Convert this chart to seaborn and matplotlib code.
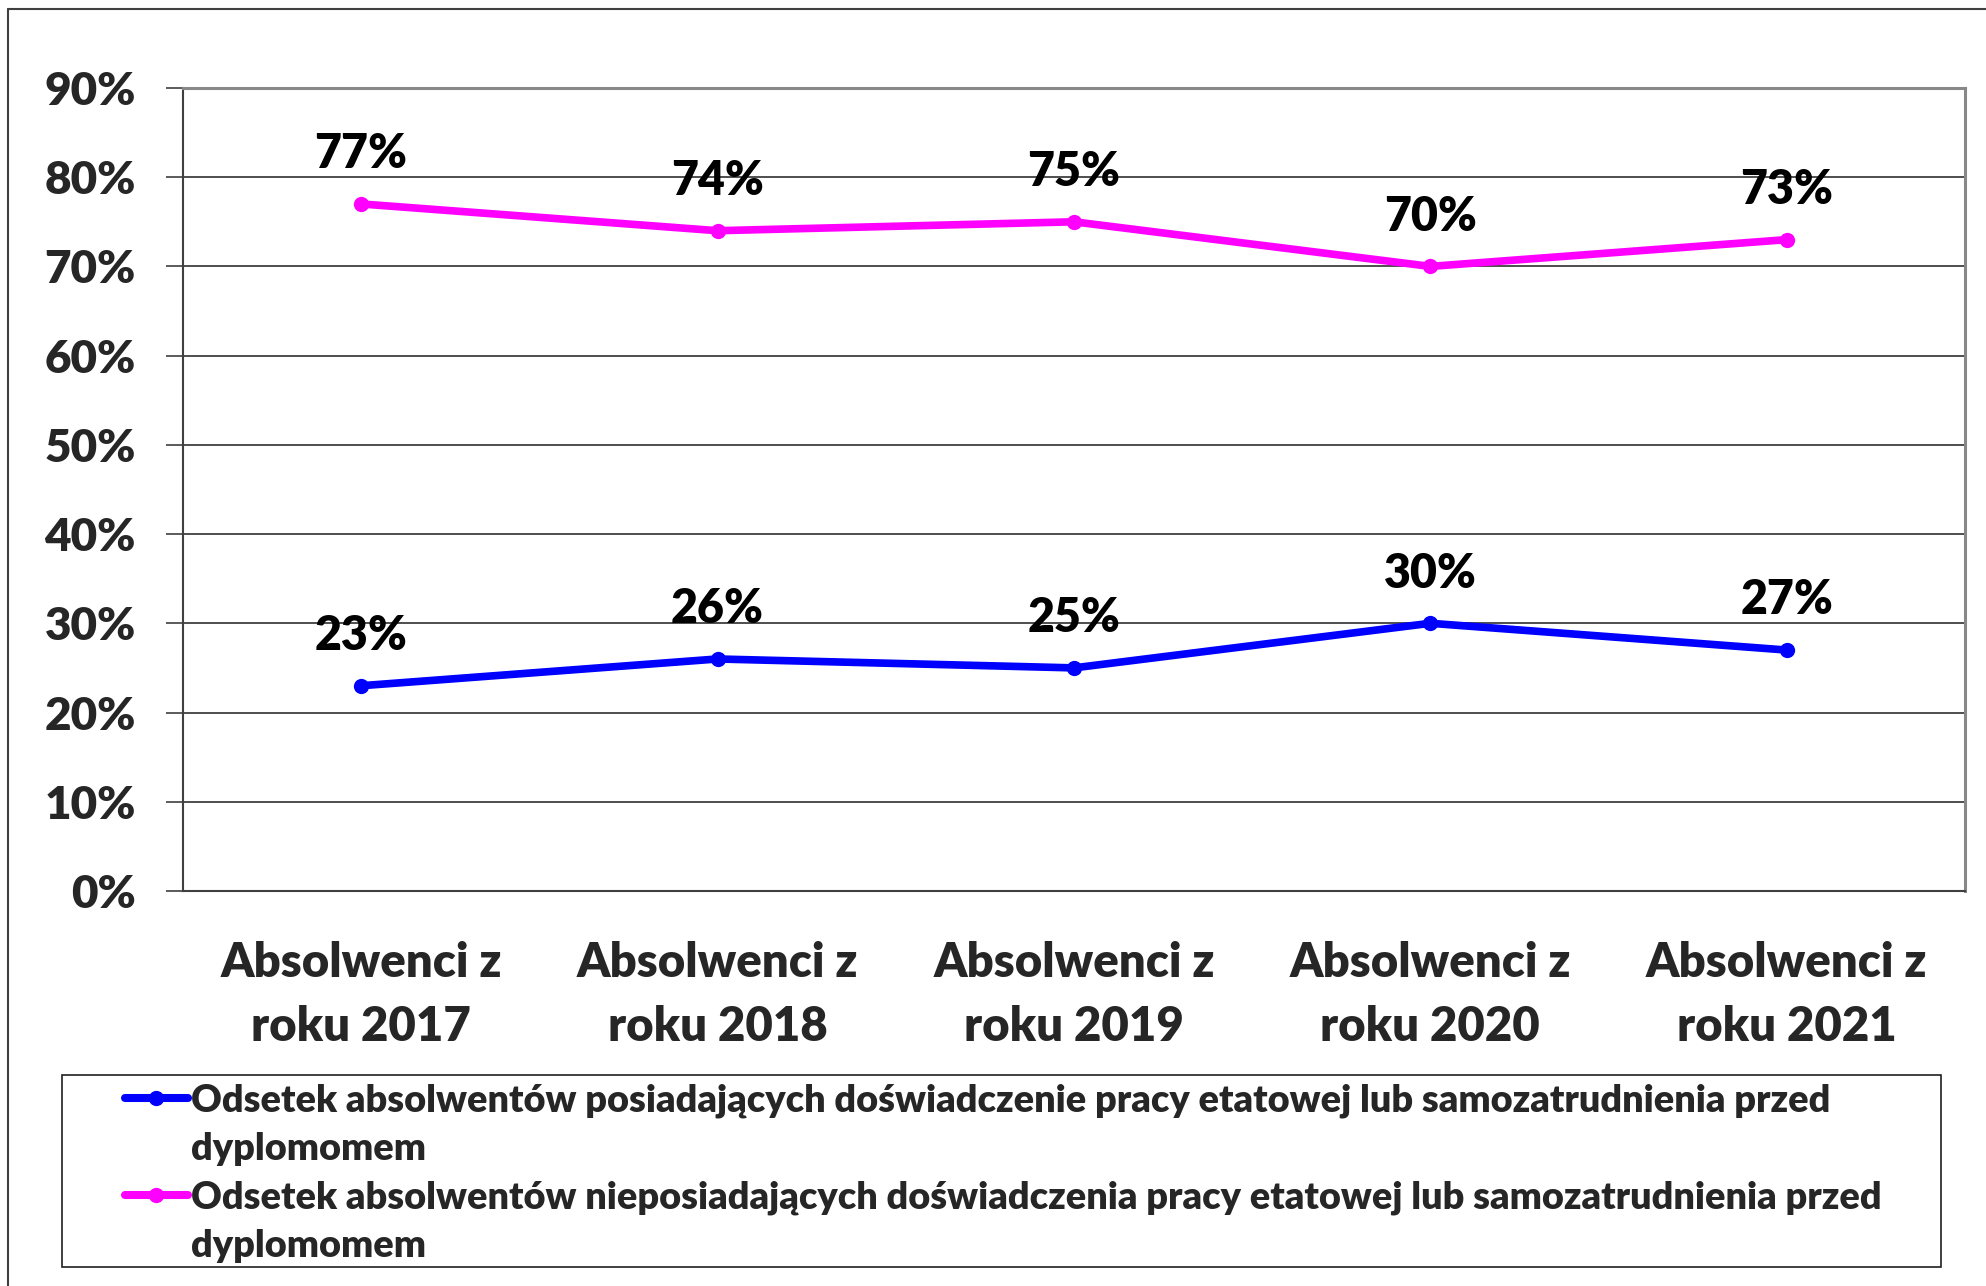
import pandas as pd
import numpy as np
import matplotlib
matplotlib.use("Agg")
import matplotlib.pyplot as plt
import seaborn as sns
from matplotlib.lines import Line2D
from matplotlib.patches import Rectangle

kategorie = ["Absolwenci z\nroku 2017", "Absolwenci z\nroku 2018", "Absolwenci z\nroku 2019",
             "Absolwenci z\nroku 2020", "Absolwenci z\nroku 2021"]
z_doswiadczeniem = [23, 26, 25, 30, 27]
bez_doswiadczenia = [77, 74, 75, 70, 73]
etykieta_z = ["Odsetek absolwentów posiadających doświadczenie pracy etatowej lub samozatrudnienia przed",
              "dyplomomem"]
etykieta_bez = ["Odsetek absolwentów nieposiadających doświadczenia pracy etatowej lub samozatrudnienia przed",
                "dyplomomem"]
y_ticki = [0, 10, 20, 30, 40, 50, 60, 70, 80, 90]

sns.set_theme(style="white")
plt.rcParams['font.family'] = ['Lato', 'DejaVu Sans']
WAGA = 'heavy'

fig = plt.figure(figsize=(19.86, 12.86), dpi=100)
ax = fig.add_axes([0.0921, 0.3072, 0.8973, 0.6244])

x = np.arange(len(kategorie))
serie = [(z_doswiadczeniem, "#0000FF", etykieta_z), (bez_doswiadczenia, "#FF00FF", etykieta_bez)]
for wartosci, kolor, etykieta in serie:
    sns.lineplot(x=x, y=wartosci, ax=ax, color=kolor, linewidth=5.5, marker='o',
                 markersize=11, markeredgewidth=0, sort=False)
    for xi, v in zip(x, wartosci):
        ax.annotate(f"{v}%", (xi, v), xytext=(0, 20), textcoords='offset points',
                    ha='center', va='bottom', fontsize=33.5, fontweight=WAGA, color='black')

ax.set_xlim(-0.5, len(kategorie) - 0.5)
ax.set_ylim(0, 90)
ax.set_yticks(y_ticki)
ax.set_yticklabels([f"{t}%" for t in y_ticki], fontsize=33, fontweight=WAGA)
ax.set_xticks(x)
ax.set_xticklabels(kategorie, fontsize=34, fontweight=WAGA, linespacing=1.55)
ax.set_xticks(np.arange(-0.5, len(kategorie)), minor=True)
ax.tick_params(axis='x', which='major', length=0, pad=36)
ax.tick_params(axis='x', which='minor', length=12, width=1.2, color='#404040', direction='out')
ax.tick_params(axis='y', length=12, width=1.2, color='#404040', direction='out', left=True, pad=22)

ax.grid(axis='y', color='#303030', linewidth=1.2)
ax.set_axisbelow(True)
for s in ['left', 'bottom']:
    ax.spines[s].set_color('#404040')
    ax.spines[s].set_linewidth(1.5)
for s in ['top', 'right']:
    ax.spines[s].set_color('#888888')
    ax.spines[s].set_linewidth(2.2)

# legenda: ramka osobno, wpisy po jednej linii
W, H = 1986, 1286
fig.add_artist(Rectangle((62 / W, 1 - 1267 / H), (1941 - 62) / W, (1267 - 1075) / H,
                         transform=fig.transFigure, fill=False, edgecolor='#202020', linewidth=1.2))
uchwyty, opisy = [], []
for _, kolor, etykieta in serie:
    uchwyty.append(Line2D([0], [0], color=kolor, linewidth=5.8, marker='o', markersize=10))
    opisy.append(etykieta[0])
    uchwyty.append(Line2D([0], [0], color='none'))
    opisy.append(etykieta[1])
leg = fig.legend(uchwyty, opisy, loc='upper left', bbox_to_anchor=(125 / W, 1 - 1083 / H),
                 frameon=False, prop={'weight': WAGA, 'size': 27.3}, handlelength=1.65,
                 handletextpad=0.1, borderpad=0, labelspacing=0.38, borderaxespad=0)

fig.add_artist(Line2D([8 / W, 1], [1 - 9 / H, 1 - 9 / H], color='#404040', linewidth=1.5,
                      transform=fig.transFigure))
fig.add_artist(Line2D([8 / W, 8 / W], [0, 1 - 9 / H], color='#404040', linewidth=1.5,
                      transform=fig.transFigure))

fig.savefig("out.png", dpi=100, facecolor='white')
